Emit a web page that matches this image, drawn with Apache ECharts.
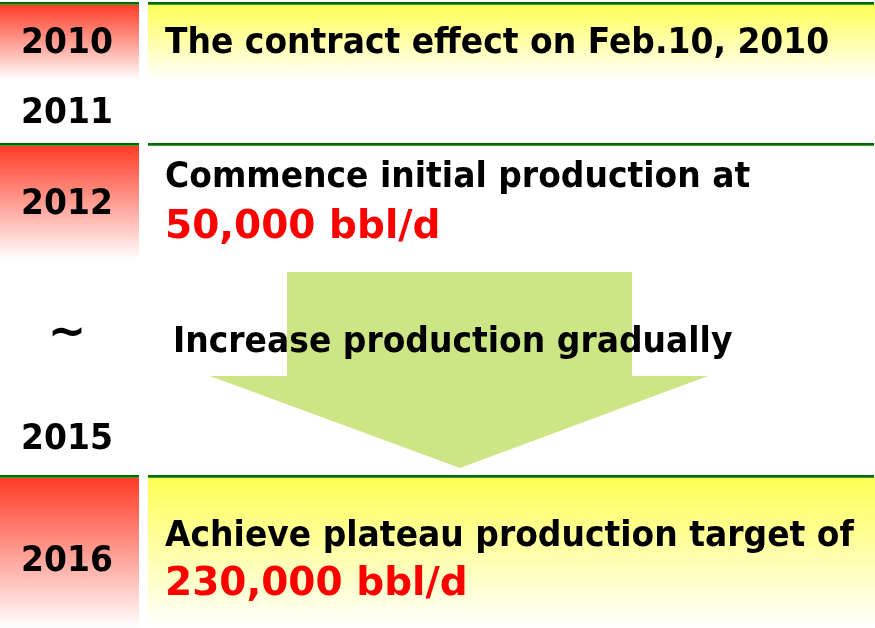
<!DOCTYPE html>
<html>
<head>
<meta charset="utf-8">
<script src="https://cdn.jsdelivr.net/npm/echarts@6/dist/echarts.min.js"></script>
<style>
  html, body { margin: 0; padding: 0; background: #fff; }
  #chart { width: 875px; height: 628px; }
</style>
</head>
<body>
<div id="chart"></div>
<script>
// timeline content
const years = ['2010', '2011', '2012', '~', '2015', '2016'];
const yearY = [44, 114, 205, 334, 440, 562];
const events = ['The contract effect on Feb.10, 2010', 'Commence initial production at', 'Increase production gradually', 'Achieve plateau production target of'];
const eventY = [44, 178, 343, 537];
const eventX = [165, 165, 173, 165];
const targets = ['50,000 bbl/d', '230,000 bbl/d'];
const targetY = [228, 585];

// row bands: [top, bottom, yellow on right?]
const bands = [
  [4, 80, true],
  [145, 260, false],
  [477, 628, true],
];

const FONT = '"DejaVu Sans", Verdana, sans-serif';
const chart = echarts.init(document.getElementById('chart'));

function vgrad(c0, c1) {
  return new echarts.graphic.LinearGradient(0, 0, 0, 1, [
    { offset: 0, color: c0 },
    { offset: 1, color: c1 },
  ]);
}

const g = [];
bands.forEach(([t, b, yellow]) => {
  g.push({ type: 'rect', shape: { x: 0, y: t, width: 139, height: b - t }, style: { fill: vgrad('#ff3a25', '#ffffff') } });
  if (yellow) {
    g.push({ type: 'rect', shape: { x: 148, y: t, width: 727, height: b - t }, style: { fill: vgrad('#ffff55', '#ffffff') } });
  }
  // green separator lines
  g.push({ type: 'line', shape: { x1: 0, y1: t - 1, x2: 139, y2: t - 1 }, style: { stroke: '#006a00', lineWidth: 2 } });
  g.push({ type: 'line', shape: { x1: 148, y1: t - 1, x2: 874, y2: t - 1 }, style: { stroke: '#006a00', lineWidth: 2 } });
  g.push({ type: 'line', shape: { x1: 0, y1: t + 0.5, x2: 139, y2: t + 0.5 }, style: { stroke: '#3aa03a', lineWidth: 1 } });
  g.push({ type: 'line', shape: { x1: 148, y1: t + 0.5, x2: 874, y2: t + 0.5 }, style: { stroke: '#3aa03a', lineWidth: 1 } });
});

// big down arrow
g.push({
  type: 'polygon',
  shape: { points: [[287, 272], [632, 272], [632, 376], [708, 376], [460, 468], [210, 376], [287, 376]] },
  style: { fill: '#cde685' },
});

years.forEach((y, i) => {
  const isTilde = y === '~';
  g.push({
    type: 'text', x: 67, y: yearY[i], scaleY: isTilde ? 1 : 1.1,
    style: { text: y, fill: '#000', font: (isTilde ? 'bold 46px ' : 'bold 33px ') + FONT, textAlign: 'center', textVerticalAlign: 'middle' },
  });
});
events.forEach((e, i) => {
  g.push({
    type: 'text', x: eventX[i], y: eventY[i], scaleY: 1.1,
    style: { text: e, fill: '#000', font: 'bold 33px ' + FONT, textAlign: 'left', textVerticalAlign: 'middle' },
  });
});
targets.forEach((e, i) => {
  g.push({
    type: 'text', x: 165, y: targetY[i],
    style: { text: e, fill: '#ff0000', font: 'bold 39px ' + FONT, textAlign: 'left', textVerticalAlign: 'middle' },
  });
});

chart.setOption({ graphic: { elements: g } });
</script>
</body>
</html>
